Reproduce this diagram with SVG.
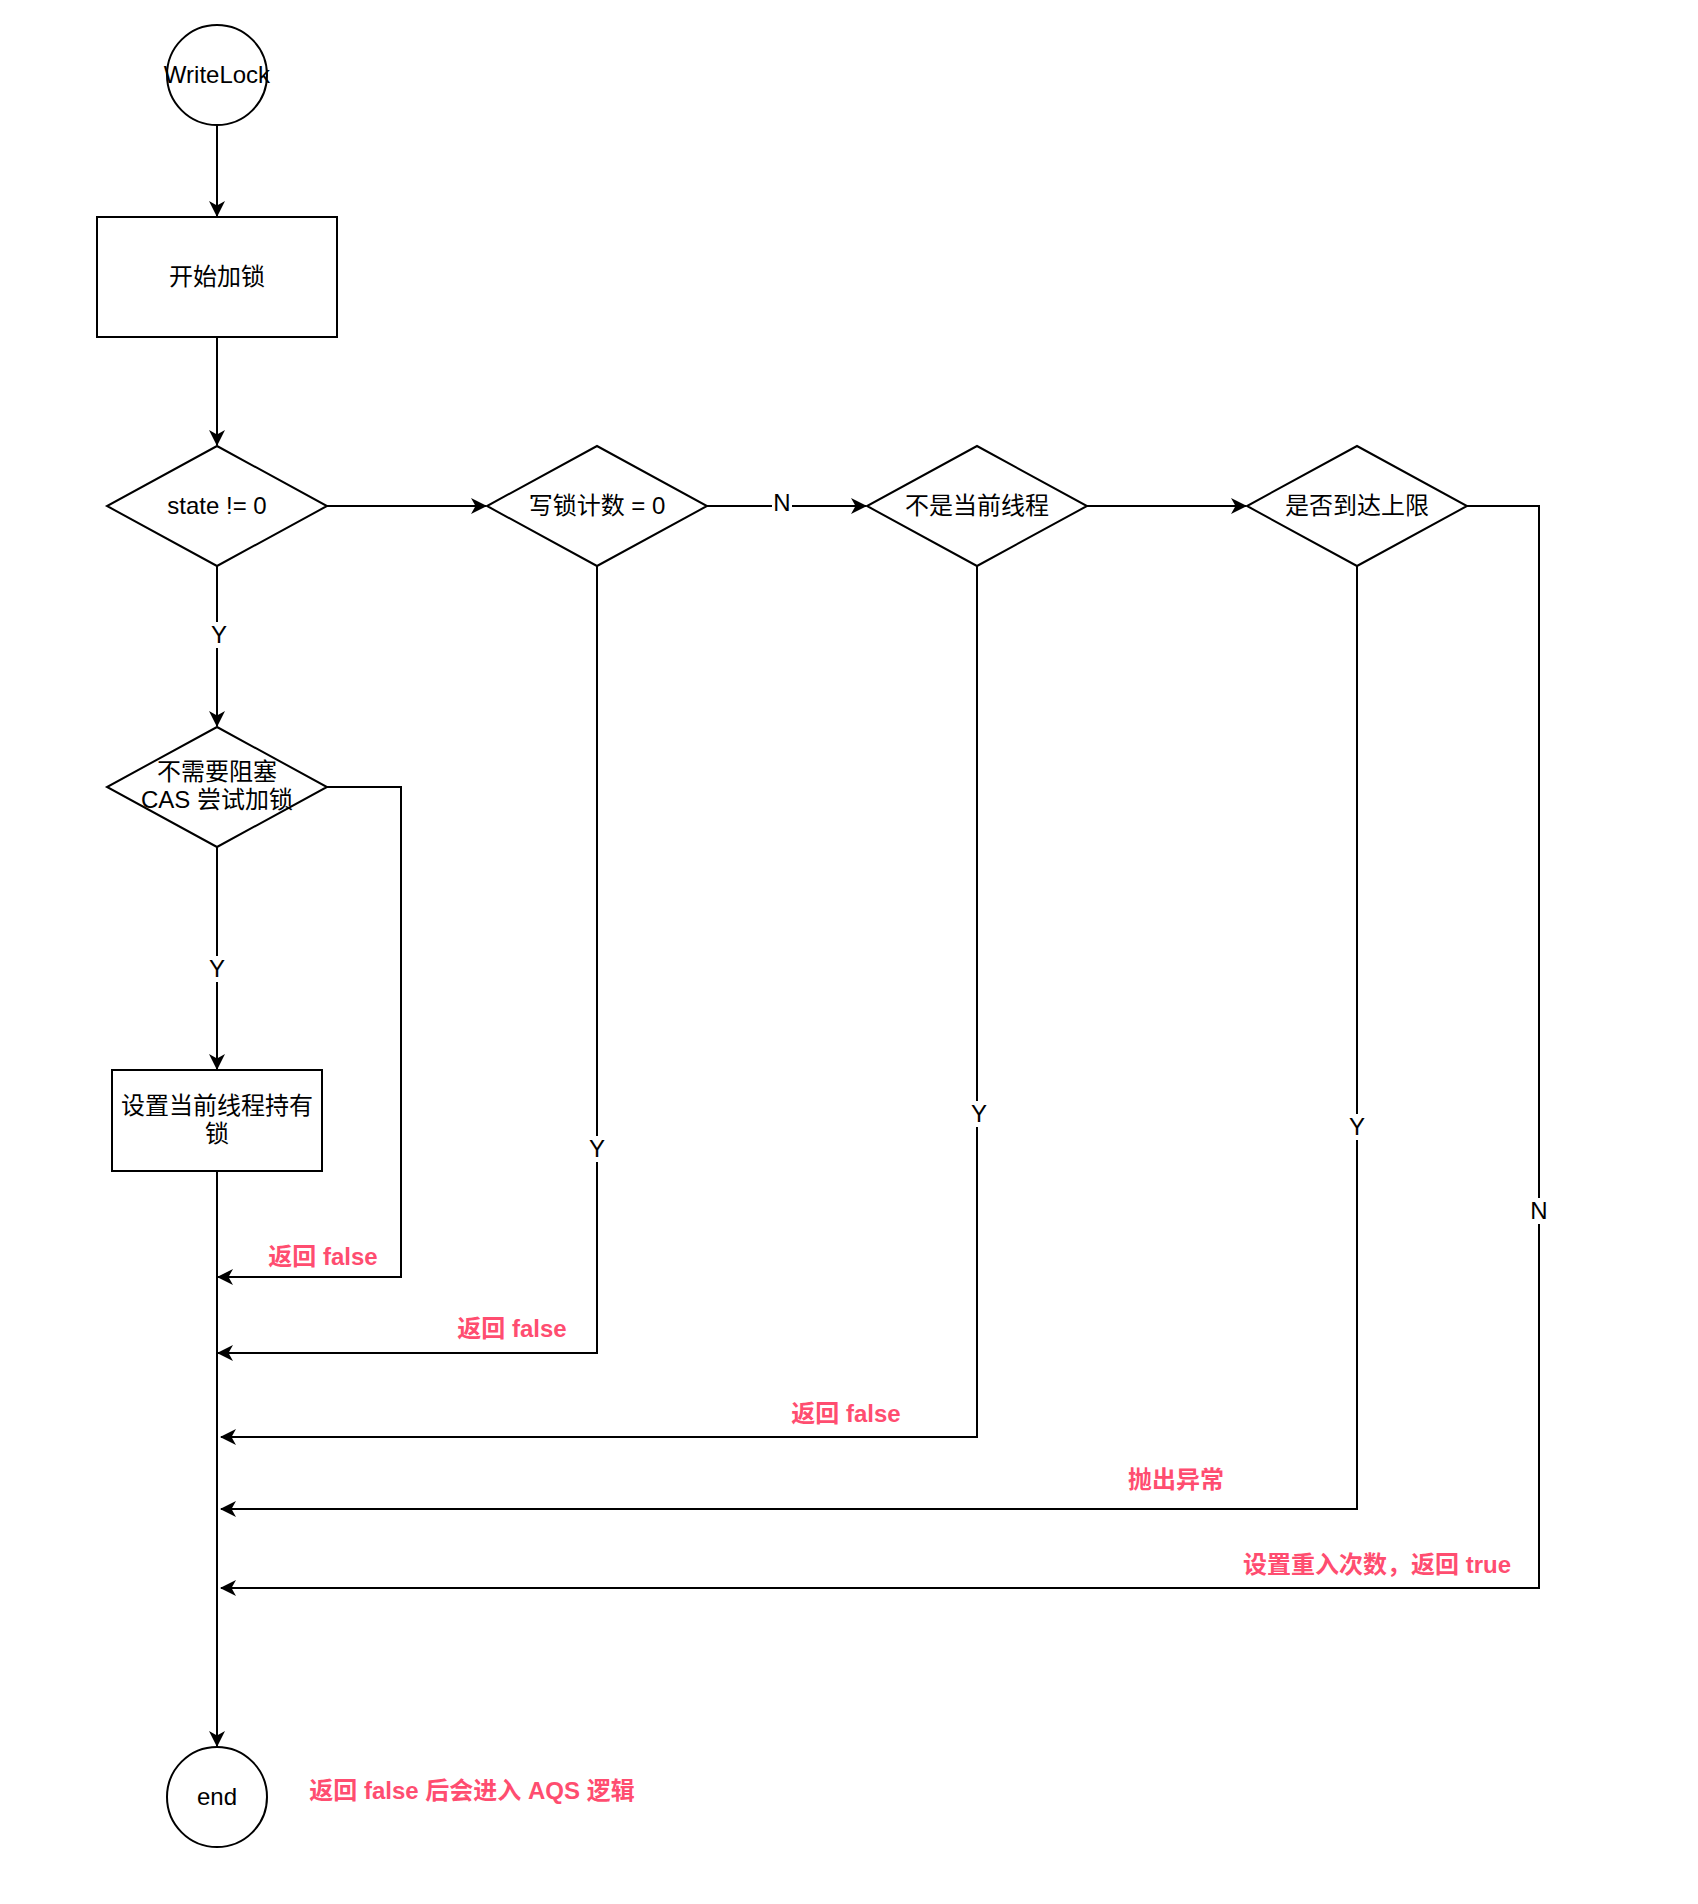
<svg xmlns="http://www.w3.org/2000/svg" width="1698" height="1904" viewBox="0 0 1698 1904">
<defs>
<marker id="arr" markerWidth="18" markerHeight="16" refX="15" refY="8" orient="auto" markerUnits="userSpaceOnUse">
<path d="M0,0 L16,8 L0,16 L4.5,8 Z" fill="#000"/>
</marker>
<style>
.shape{fill:#fff;stroke:#000;stroke-width:2}
.edge{fill:none;stroke:#000;stroke-width:2}
.t{font-family:"Liberation Sans","Noto Sans CJK SC",sans-serif;font-size:24px;fill:#000;text-anchor:middle}
.r{font-family:"Liberation Sans","Noto Sans CJK SC",sans-serif;font-size:24px;font-weight:bold;fill:#FF4D70;text-anchor:middle}
.bg{fill:#fff}
</style>
</defs>
<rect width="1698" height="1904" fill="#fff"/>
<g id="connectors">
<path class="edge" d="M217,125 L217,216" marker-end="url(#arr)"/>
<path class="edge" d="M217,337 L217,445" marker-end="url(#arr)"/>
<path class="edge" d="M327,506 L486,506" marker-end="url(#arr)"/>
<path class="edge" d="M707,506 L866,506" marker-end="url(#arr)"/>
<path class="edge" d="M1087,506 L1246,506" marker-end="url(#arr)"/>
<path class="edge" d="M217,566 L217,726" marker-end="url(#arr)"/>
<path class="edge" d="M217,847 L217,1069" marker-end="url(#arr)"/>
<path class="edge" d="M217,1171 L217,1746" marker-end="url(#arr)"/>
<path class="edge" d="M327,787 L401,787 L401,1277 L218,1277" marker-end="url(#arr)"/>
<path class="edge" d="M597,566 L597,1353 L218,1353" marker-end="url(#arr)"/>
<path class="edge" d="M977,566 L977,1437 L221,1437" marker-end="url(#arr)"/>
<path class="edge" d="M1357,566 L1357,1509 L221,1509" marker-end="url(#arr)"/>
<path class="edge" d="M1467,506 L1539,506 L1539,1588 L221,1588" marker-end="url(#arr)"/>
<rect class="bg" x="772" y="493" width="20" height="26"/>
<text class="t" x="782" y="511">N</text>
<rect class="bg" x="207" y="622" width="20" height="26"/>
<text class="t" x="219" y="643">Y</text>
<rect class="bg" x="207" y="956" width="20" height="26"/>
<text class="t" x="217" y="977">Y</text>
<rect class="bg" x="587" y="1136" width="20" height="26"/>
<text class="t" x="597" y="1157">Y</text>
<rect class="bg" x="967" y="1101" width="20" height="26"/>
<text class="t" x="979" y="1122">Y</text>
<rect class="bg" x="1347" y="1114" width="20" height="26"/>
<text class="t" x="1357" y="1135">Y</text>
<rect class="bg" x="1529" y="1198" width="20" height="26"/>
<text class="t" x="1539" y="1219">N</text>
<text class="r" x="323" y="1265">返回 false</text>
<text class="r" x="512" y="1337">返回 false</text>
<text class="r" x="846" y="1422">返回 false</text>
<text class="r" x="1176" y="1488">抛出异常</text>
<text class="r" x="1377" y="1573">设置重入次数，返回 true</text>
</g>
<g id="start">
<circle class="shape" cx="217" cy="75" r="50"/>
<text class="t" x="217" y="83">WriteLock</text>
</g>
<g id="begin">
<rect class="shape" x="97" y="217" width="240" height="120"/>
<text class="t" x="217" y="285">开始加锁</text>
</g>
<g id="d-state">
<polygon class="shape" points="217,446 327,506 217,566 107,506"/>
<text class="t" x="217" y="514">state != 0</text>
</g>
<g id="d-write">
<polygon class="shape" points="597,446 707,506 597,566 487,506"/>
<text class="t" x="597" y="514">写锁计数 = 0</text>
</g>
<g id="d-thread">
<polygon class="shape" points="977,446 1087,506 977,566 867,506"/>
<text class="t" x="977" y="514">不是当前线程</text>
</g>
<g id="d-limit">
<polygon class="shape" points="1357,446 1467,506 1357,566 1247,506"/>
<text class="t" x="1357" y="514">是否到达上限</text>
</g>
<g id="d-cas">
<polygon class="shape" points="217,727 327,787 217,847 107,787"/>
<text class="t" x="217" y="780">不需要阻塞</text>
<text class="t" x="217" y="808">CAS 尝试加锁</text>
</g>
<g id="set-owner">
<rect class="shape" x="112" y="1070" width="210" height="101"/>
<text class="t" x="217" y="1114">设置当前线程持有</text>
<text class="t" x="217" y="1142">锁</text>
</g>
<g id="end">
<circle class="shape" cx="217" cy="1797" r="50"/>
<text class="t" x="217" y="1805">end</text>
</g>
<g id="note">
<text class="r" x="472" y="1799">返回 false 后会进入 AQS 逻辑</text>
</g>
</svg>
